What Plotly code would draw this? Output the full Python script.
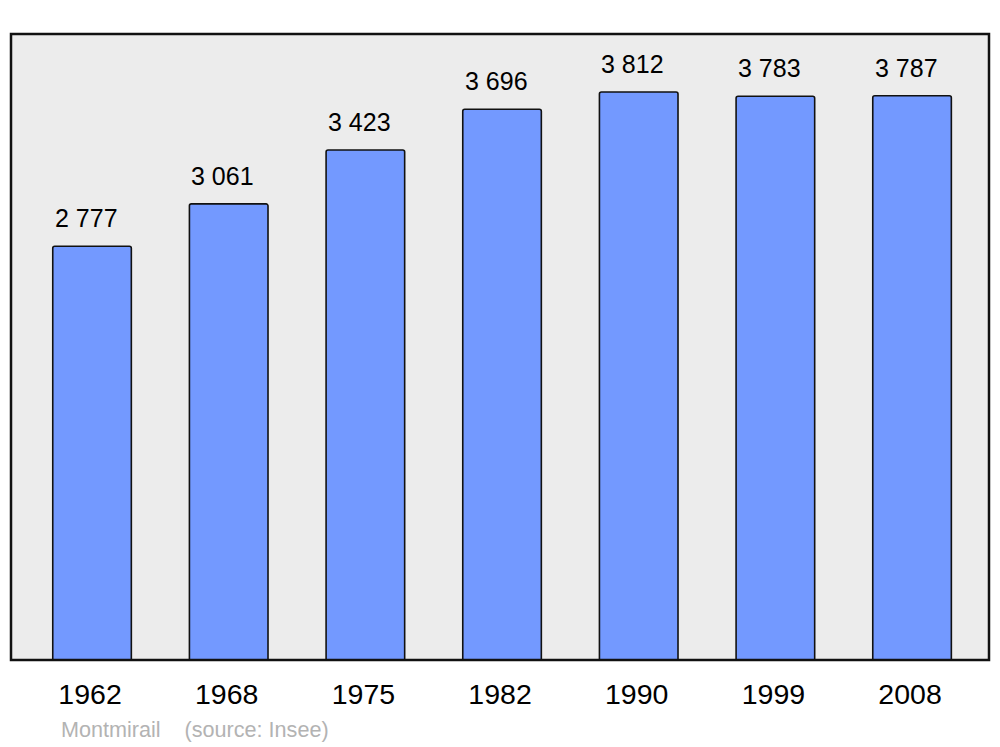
import plotly.graph_objects as go

years = ["1962", "1968", "1975", "1982", "1990", "1999", "2008"]
population = [2777, 3061, 3423, 3696, 3812, 3783, 3787]
labels = ["2 777", "3 061", "3 423", "3 696", "3 812", "3 783", "3 787"]
footer = "Montmirail&nbsp;&nbsp;&nbsp;&nbsp;(source: Insee)"

FONT = "Liberation Sans, Arial, sans-serif"

fig = go.Figure()
fig.add_trace(go.Bar(
    x=years, y=population,
    width=0.575,
    marker=dict(color="#7399ff", line=dict(color="#111111", width=1.6), cornerradius=2),
    hoverinfo="x+y",
))

for i, (v, t) in enumerate(zip(population, labels)):
    fig.add_annotation(x=i, y=v, xref="x", yref="y", text=t, showarrow=False,
                       yanchor="bottom", yshift=12, xshift=-6,
                       font=dict(family=FONT, size=25, color="#000000"))

fig.add_annotation(xref="paper", yref="paper", x=0.049, y=-0.088, xanchor="left", yanchor="top",
                   text=footer, showarrow=False, font=dict(family=FONT, size=21.6, color="#b3b3b3"))

fig.add_shape(type="rect", xref="paper", yref="paper", x0=0, x1=1, y0=0, y1=1,
              line=dict(color="#111111", width=2.5), layer="above")

fig.update_layout(
    width=992, height=739,
    margin=dict(l=3, r=11, t=26, b=87),
    paper_bgcolor="white", plot_bgcolor="#ececec",
    showlegend=False,
    font=dict(family=FONT),
    xaxis=dict(type="category", range=[-0.593, 6.563], showgrid=False, zeroline=False,
               ticks="outside", ticklen=9, tickcolor="rgba(0,0,0,0)", ticklabelshift=-2,
               tickfont=dict(family=FONT, size=28.5, color="#000")),
    yaxis=dict(range=[0, 4201], showgrid=False, zeroline=False, showticklabels=False),
)

fig.write_html("out.html")
